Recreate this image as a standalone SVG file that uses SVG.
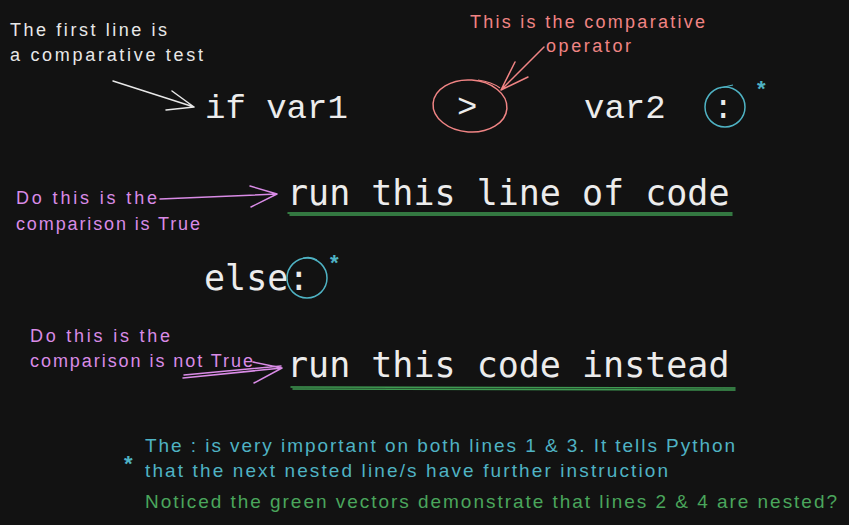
<svg xmlns="http://www.w3.org/2000/svg" width="849" height="525" viewBox="0 0 849 525">
<style>
.hand{font-family:"Liberation Sans","DejaVu Sans",sans-serif;font-size:18px}
.foot{font-size:19px}
.star{font-family:"Liberation Sans","DejaVu Sans",sans-serif;font-size:22px;font-weight:bold}
.code{font-family:"DejaVu Sans Mono","Liberation Mono",monospace;font-size:35px;fill:#ececec}
.cour{font-family:"Liberation Mono","DejaVu Sans Mono",monospace;font-size:34px;fill:#ececec}
.w{fill:#e8e8e8}.r{fill:#f08484}.p{fill:#d98be6}.c{fill:#4fb3c4}.g{fill:#4aa65c}
.ln{fill:none;stroke-width:1.5;stroke-linecap:round;stroke-linejoin:round}
</style>
<rect width="849" height="525" fill="#121212"/>
<g id="connectors">
  <path class="ln" stroke="#e8e8e8" d="M113,81 L194,107 M172,91 L194,107 L166,110"/>
  <path class="ln" stroke="#f08484" d="M544,47 L501,90 M515,62 L501,90 L528,77"/>
  <path class="ln" stroke="#d98be6" d="M160,199 L277,194 M250,186 L277,194 L251,207"/>
  <path class="ln" stroke="#d98be6" d="M183,378 L282,368 M184,375 L281,366 M253,362 L282,368 L254,383"/>
  <path class="ln" stroke="#3f9a52" stroke-width="2" d="M288,213 L732,213 M290,215 L732,215"/>
  <path class="ln" stroke="#3f9a52" stroke-width="2" d="M291,387 L735,388 M293,389 L735,390"/>
</g>
<g id="note-first-line">
  <text class="hand w" x="10" y="36" textLength="157">The first line is</text>
  <text class="hand w" x="10" y="61" textLength="193">a comparative test</text>
</g>
<g id="note-operator">
  <text class="hand r" x="470" y="28" textLength="235">This is the comparative</text>
  <text class="hand r" x="546" y="52" textLength="85">operator</text>
</g>
<g id="line-if">
  <text class="cour" x="205" y="118">if var1</text>
</g>
<g id="operator">
  <ellipse cx="470" cy="106" rx="37" ry="26" fill="none" stroke="#f08484" stroke-width="1.5" transform="rotate(4 470 106)"/>
  <path d="M478,80 Q492,82 500,88" fill="none" stroke="#f08484" stroke-width="1.2"/>
  <text class="cour" x="457" y="117">&gt;</text>
</g>
<g id="var2">
  <text class="cour" x="584" y="118">var2</text>
</g>
<g id="colon1">
  <circle cx="725" cy="107" r="20" fill="none" stroke="#4fb3c4" stroke-width="1.5"/>
  <path d="M720,88 L733,85" fill="none" stroke="#4fb3c4" stroke-width="1.2"/>
  <text class="cour" x="713" y="118">:</text>
  <text class="star c" x="757" y="96">*</text>
</g>
<g id="note-true">
  <text class="hand p" x="16" y="204" textLength="141">Do this is the</text>
  <text class="hand p" x="16" y="230" textLength="184">comparison is True</text>
</g>
<g id="line-run1">
  <text class="code" x="287" y="205">run this line of code</text>
</g>
<g id="line-else">
  <text class="code" x="204" y="290">else:</text>
  <circle cx="307" cy="278" r="20" fill="none" stroke="#4fb3c4" stroke-width="1.5"/>
  <path d="M303,258 Q311,256 317,260" fill="none" stroke="#4fb3c4" stroke-width="1.2"/>
  <text class="star c" x="330" y="270">*</text>
</g>
<g id="note-not-true">
  <text class="hand p" x="30" y="342" textLength="140">Do this is the</text>
  <text class="hand p" x="30" y="367" textLength="223">comparison is not True</text>
</g>
<g id="line-run2">
  <text class="code" x="287" y="377">run this code instead</text>
</g>
<g id="footnote">
  <text class="star c" x="124" y="471">*</text>
  <text class="hand foot c" x="145" y="452" textLength="590">The : is very important on both lines 1 &amp; 3. It tells Python</text>
  <text class="hand foot c" x="145" y="477" textLength="523">that the next nested line/s have further instruction</text>
  <text class="hand foot g" x="145" y="508" textLength="692">Noticed the green vectors demonstrate that lines 2 &amp; 4 are nested?</text>
</g>
</svg>
